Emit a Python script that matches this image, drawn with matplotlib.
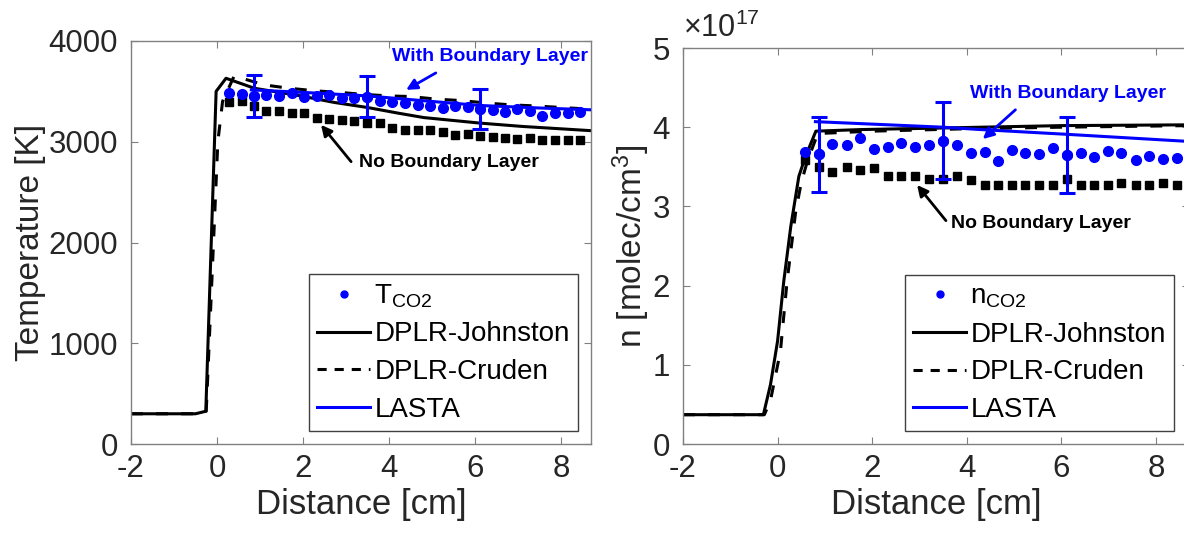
import matplotlib
matplotlib.use("Agg")
import matplotlib.pyplot as plt
from matplotlib.lines import Line2D

plt.rcParams['font.family'] = ['Liberation Sans', 'DejaVu Sans']
plt.rcParams['mathtext.fontset'] = 'custom'
plt.rcParams['mathtext.rm'] = 'Liberation Sans'
plt.rcParams['mathtext.it'] = 'Liberation Sans:italic'
plt.rcParams['mathtext.bf'] = 'Liberation Sans:bold'

# ---------------- Temperature panel data ----------------
dist_T_pts = [0.29, 0.58, 0.87, 1.15, 1.45, 1.74, 2.03, 2.33, 2.61, 2.90, 3.19, 3.50, 3.79, 4.08,
              4.37, 4.67, 4.95, 5.25, 5.54, 5.83, 6.12, 6.41, 6.71, 6.99, 7.29, 7.57, 7.86, 8.16, 8.45]
T_co2 = [3482, 3472, 3455, 3465, 3455, 3482, 3449, 3455, 3465, 3432, 3439, 3449, 3409, 3390,
         3383, 3366, 3356, 3333, 3350, 3343, 3323, 3317, 3300, 3323, 3310, 3257, 3290, 3284, 3300]
T_no_bl = [3390, 3406, 3350, 3310, 3310, 3290, 3290, 3234, 3224, 3218, 3201, 3185, 3185, 3140,
           3119, 3119, 3112, 3092, 3069, 3079, 3059, 3046, 3036, 3026, 3036, 3020, 3013, 3013, 3013]
T_err_idx = [2, 11, 20]
T_err = [205, 205, 198]

dist_T_john = [-2, -0.5, -0.26, -0.02, 0.21, 0.87, 1.95, 2.73, 3.5, 4.2, 4.81, 6.12, 7.1, 8.7]
T_john = [300, 300, 325, 3500, 3630, 3531, 3455, 3390, 3340, 3285, 3240, 3185, 3152, 3110]

dist_T_crud = [-2, -0.5, -0.25, 0.02, 0.13, 0.40, 1.10, 1.68, 2.3, 2.9, 3.36, 3.98, 4.5, 5.1,
               5.67, 6.3, 6.84, 7.38, 8.0, 8.7]
T_crud = [300, 300, 325, 3000, 3400, 3653, 3564, 3531, 3505, 3488, 3472, 3455, 3449, 3423,
          3409, 3383, 3366, 3356, 3340, 3323]

dist_T_lasta = [0.8, 2.0, 3.5, 5.0, 6.12, 7.5, 8.7]
T_lasta = [3515, 3490, 3455, 3400, 3360, 3335, 3317]

# ---------------- Number density panel data (x1e17) ----------------
dist_n_pts = [0.58, 0.88, 1.16, 1.46, 1.74, 2.04, 2.33, 2.62, 2.91, 3.21, 3.49, 3.79, 4.08, 4.38,
              4.66, 4.96, 5.24, 5.53, 5.83, 6.12, 6.41, 6.70, 6.99, 7.27, 7.57, 7.86, 8.14, 8.44]
n_co2 = [3.69, 3.66, 3.79, 3.78, 3.86, 3.73, 3.75, 3.80, 3.75, 3.77, 3.83, 3.78, 3.67, 3.69,
         3.575, 3.71, 3.67, 3.66, 3.74, 3.65, 3.67, 3.63, 3.70, 3.67, 3.59, 3.64, 3.60, 3.61]
n_no_bl = [3.59, 3.50, 3.44, 3.50, 3.46, 3.48, 3.38, 3.38, 3.38, 3.35, 3.34, 3.38, 3.33, 3.27,
           3.27, 3.27, 3.27, 3.27, 3.27, 3.34, 3.27, 3.27, 3.27, 3.29, 3.27, 3.27, 3.29, 3.27]
n_err_idx = [1, 10, 19]
n_err = [0.475, 0.49, 0.475]

dist_n_john = [-2, -0.3, -0.15, 0.0, 0.13, 0.28, 0.45, 0.59, 0.81, 1.76, 3.49, 4.3, 6.0, 8.7]
n_john = [0.37, 0.37, 0.75, 1.30, 2.05, 2.75, 3.38, 3.63, 3.95, 3.97, 3.99, 4.00, 4.02, 4.03]

dist_n_crud = [-2, -0.28, -0.15, 0.06, 0.2, 0.38, 0.5, 0.63, 0.85, 2.0, 4.0, 6.0, 8.7]
n_crud = [0.37, 0.37, 0.55, 1.17, 2.05, 2.92, 3.3, 3.57, 3.92, 3.95, 3.98, 4.0, 4.02]

dist_n_lasta = [0.8, 3.5, 4.3, 6.12, 8.7]
n_lasta = [4.07, 4.00, 3.97, 3.91, 3.82]

x_ticks = [-2, 0, 2, 4, 6, 8]
T_ticks = [0, 1000, 2000, 3000, 4000]
n_ticks = [0, 1, 2, 3, 4, 5]

GRAY = '#262626'
BLUE = '#0000ff'
LW = 2.2
DASH = (0, (3.9, 4.3))

fig = plt.figure(figsize=(11.84, 5.42), dpi=100)
W, H = 1184, 542
axL = fig.add_axes([131 / W, 1 - 444 / H, 460 / W, (444 - 41) / H])
axR = fig.add_axes([683 / W, 1 - 444 / H, 506 / W, (444 - 48) / H])


def style(ax):
    for s in ax.spines.values():
        s.set_color('#808080')
        s.set_linewidth(1.0)
    ax.tick_params(direction='in', top=True, right=True, length=5, width=0.8,
                   colors='#808080', labelcolor=GRAY, labelsize=22.5)
    ax.tick_params(axis='x', pad=7)
    ax.tick_params(axis='y', pad=9.5)
    ax.set_xlim(-2, 8.7)
    ax.set_xticks(x_ticks)
    ax.set_xticklabels([str(v) for v in x_ticks])


def panel(ax, xp, yp, ynb, eidx, eval_, xj, yj, xc, yc, xl, yl, mlabel):
    ax.plot(xp, yp, 'o', color=BLUE, ms=7, zorder=4, ls='none')
    ax.plot(xp, ynb, 's', color='black', ms=6, zorder=3, ls='none')
    ax.errorbar([xp[i] for i in eidx], [yp[i] for i in eidx], yerr=eval_, fmt='o', color=BLUE,
                ms=7, elinewidth=2.2, capsize=6, capthick=2.2, zorder=5)
    ax.plot(xj, yj, '-', color='black', lw=LW, zorder=2)
    ax.plot(xc, yc, color='black', lw=LW, ls=DASH, zorder=2)
    ax.plot(xl, yl, '-', color=BLUE, lw=2.2, zorder=3)
    handles = [Line2D([], [], marker='o', ls='none', color=BLUE, ms=5),
               Line2D([], [], color='black', lw=LW),
               Line2D([], [], color='black', lw=LW, ls=(0, (3.0, 2.6))),
               Line2D([], [], color=BLUE, lw=2.2)]
    labels = [mlabel, 'DPLR-Johnston', 'DPLR-Cruden', 'LASTA']
    return handles, labels


def make_legend(ax, h, l, right_frac):
    leg = ax.legend(h, l, loc='lower right', bbox_to_anchor=(right_frac, 0.032), fontsize=20,
                    frameon=True, fancybox=False, framealpha=1, edgecolor='#404040',
                    handlelength=1.9, handletextpad=0.15, labelspacing=0.42, borderpad=0.3,
                    borderaxespad=0)
    leg.get_frame().set_linewidth(1.0)
    return leg


def arrow(ax, head, tail, color):
    ax.annotate('', xy=head, xytext=tail,
                arrowprops=dict(arrowstyle='-|>', color=color, lw=2, mutation_scale=16,
                                shrinkA=0, shrinkB=0), zorder=6)


style(axL)
hL, lL = panel(axL, dist_T_pts, T_co2, T_no_bl, T_err_idx, T_err, dist_T_john, T_john,
               dist_T_crud, T_crud, dist_T_lasta, T_lasta, r'T$_{\mathrm{CO2}}$')
axL.set_ylim(0, 4000)
axL.set_yticks(T_ticks)
axL.set_yticklabels([str(v) for v in T_ticks])
axL.set_xlabel('Distance [cm]', fontsize=25, color=GRAY, labelpad=3)
axL.set_ylabel('Temperature [K]', fontsize=24, color=GRAY, labelpad=1.5)
make_legend(axL, hL, lL, (578 - 131) / 460)

axL.text(6.35, 3842, 'With Boundary Layer', color=BLUE, fontsize=14, fontweight='bold',
         ha='center', va='center', zorder=6)
arrow(axL, (4.40, 3515), (5.09, 3683), BLUE)
axL.text(5.40, 2792, 'No Boundary Layer', color='black', fontsize=14, fontweight='bold',
         ha='center', va='center', zorder=6)
arrow(axL, (2.42, 3168), (3.12, 2802), 'black')

style(axR)
hR, lR = panel(axR, dist_n_pts, n_co2, n_no_bl, n_err_idx, n_err, dist_n_john, n_john,
               dist_n_crud, n_crud, dist_n_lasta, n_lasta, r'n$_{\mathrm{CO2}}$')
axR.set_ylim(0, 5)
axR.set_yticks(n_ticks)
axR.set_yticklabels([str(v) for v in n_ticks])
axR.set_xlabel('Distance [cm]', fontsize=25, color=GRAY, labelpad=3)
axR.set_ylabel(r'n [molec/cm$^{3}$]', fontsize=24, color=GRAY, labelpad=0.5)
axR.text(0.0, 1.01, r'$\times10^{17}$', transform=axR.transAxes, fontsize=22, color=GRAY,
         ha='left', va='bottom')
make_legend(axR, hR, lR, (1174 - 683) / 506)

axR.text(6.15, 4.43, 'With Boundary Layer', color=BLUE, fontsize=14, fontweight='bold',
         ha='center', va='center', zorder=6)
arrow(axR, (4.34, 3.85), (5.03, 4.22), BLUE)
axR.text(5.57, 2.79, 'No Boundary Layer', color='black', fontsize=14, fontweight='bold',
         ha='center', va='center', zorder=6)
arrow(axR, (2.95, 3.27), (3.56, 2.82), 'black')

fig.savefig('out.png', dpi=100)
